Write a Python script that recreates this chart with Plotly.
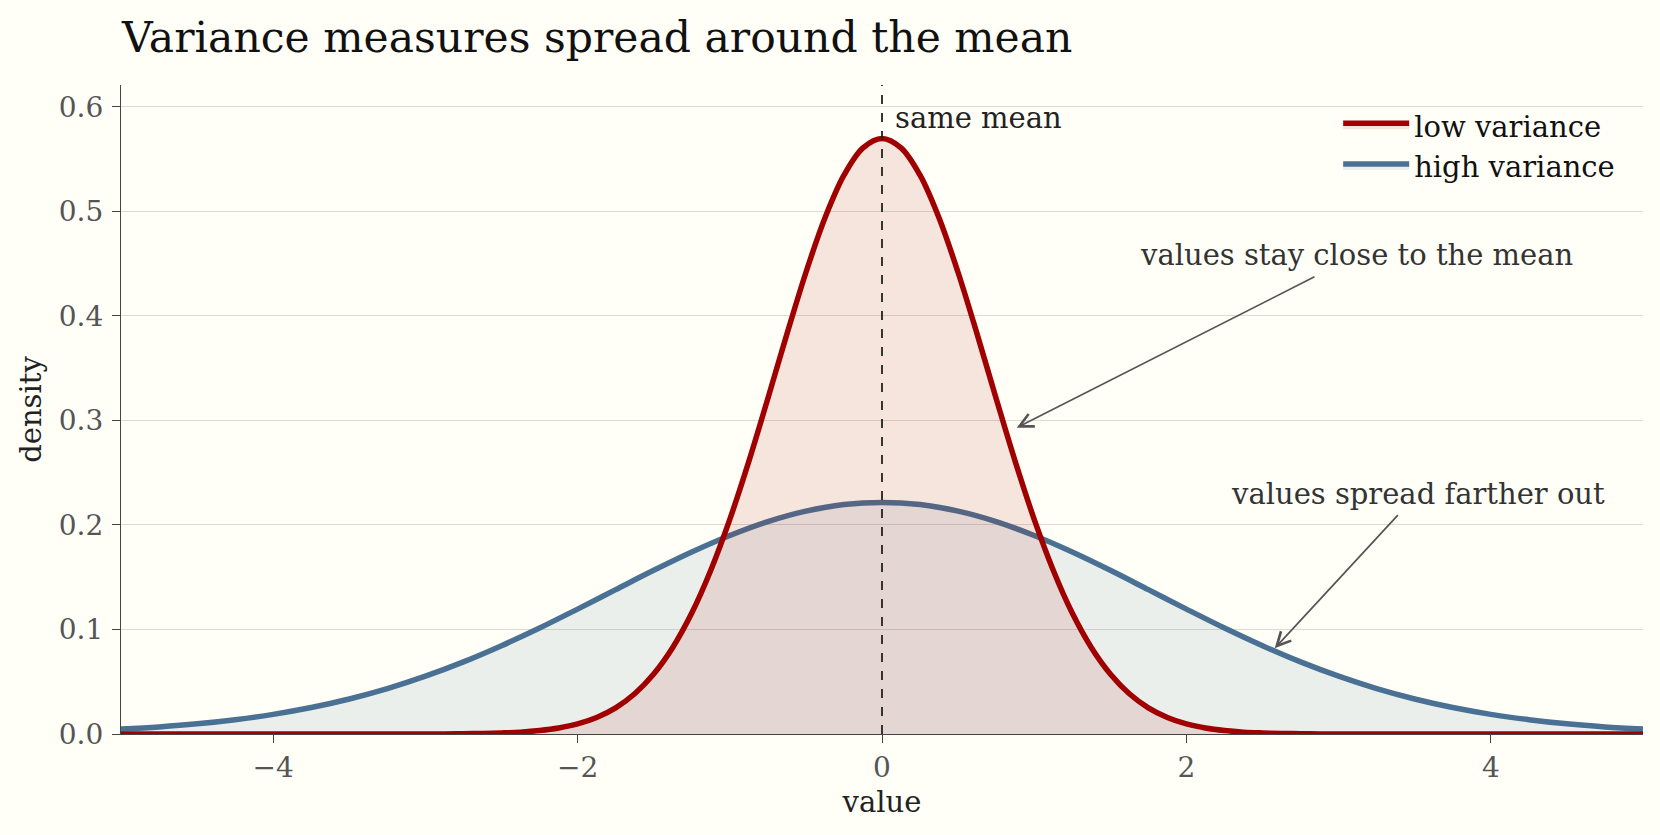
import plotly.graph_objects as go

# ---- data ----
low_x = [-5.0, -4.0, -3.5, -3.0, -2.875, -2.75, -2.625, -2.5, -2.375, -2.25, -2.125, -2.0,
         -1.875, -1.75, -1.625, -1.5, -1.375, -1.25, -1.125, -1.0, -0.875, -0.75, -0.625,
         -0.5, -0.375, -0.25, -0.125, 0.0, 0.125, 0.25, 0.375, 0.5, 0.625, 0.75, 0.875,
         1.0, 1.125, 1.25, 1.375, 1.5, 1.625, 1.75, 1.875, 2.0, 2.125, 2.25, 2.375, 2.5,
         2.625, 2.75, 2.875, 3.0, 3.5, 4.0, 5.0]
low_variance = [0.0, 0.0, 0.0, 0.0001, 0.0001, 0.0003, 0.0005, 0.0010, 0.0018, 0.0033, 0.0057,
                0.0096, 0.0158, 0.0250, 0.0385, 0.0574, 0.0828, 0.1157, 0.1567, 0.2054, 0.2609,
                0.3210, 0.3826, 0.4416, 0.4937, 0.5347, 0.5609, 0.5699, 0.5609, 0.5347, 0.4937,
                0.4416, 0.3826, 0.3210, 0.2609, 0.2054, 0.1567, 0.1157, 0.0828, 0.0574, 0.0385,
                0.0250, 0.0158, 0.0096, 0.0057, 0.0033, 0.0018, 0.0010, 0.0005, 0.0003, 0.0001,
                0.0001, 0.0, 0.0, 0.0]

high_x = [-5.0, -4.75, -4.5, -4.25, -4.0, -3.75, -3.5, -3.25, -3.0, -2.75, -2.5, -2.25,
          -2.0, -1.75, -1.5, -1.25, -1.0, -0.75, -0.5, -0.25, 0.0, 0.25, 0.5, 0.75,
          1.0, 1.25, 1.5, 1.75, 2.0, 2.25, 2.5, 2.75, 3.0, 3.25, 3.5, 3.75, 4.0,
          4.25, 4.5, 4.75, 5.0]
high_variance = [0.0047, 0.0068, 0.0097, 0.0137, 0.0188, 0.0253, 0.0335, 0.0434, 0.0553, 0.0690,
                 0.0845, 0.1014, 0.1195, 0.1381, 0.1566, 0.1741, 0.1899, 0.2032, 0.2132, 0.2195,
                 0.2216, 0.2195, 0.2132, 0.2032, 0.1899, 0.1741, 0.1566, 0.1381, 0.1195, 0.1014,
                 0.0845, 0.0690, 0.0553, 0.0434, 0.0335, 0.0253, 0.0188, 0.0137, 0.0097, 0.0068,
                 0.0047]

series_names = ["low variance", "high variance"]
y_ticks = [0.0, 0.1, 0.2, 0.3, 0.4, 0.5, 0.6]
y_tick_labels = ["0.0", "0.1", "0.2", "0.3", "0.4", "0.5", "0.6"]
x_ticks = [-4, -2, 0, 2, 4]
x_tick_labels = ["\u22124", "\u22122", "0", "2", "4"]

FONT = "DejaVu Serif"
BG = "#fffff8"
RED = "#a00000"
BLUE = "#4a7194"

fig = go.Figure()

fig.add_trace(go.Scatter(
    x=high_x, y=high_variance, mode="lines", line=dict(color=BLUE, width=5.5, shape="spline"),
    fill="tozeroy", fillcolor="rgba(74,113,148,0.11)", name=series_names[1], legendrank=2,
))
fig.add_trace(go.Scatter(
    x=low_x, y=low_variance, mode="lines", line=dict(color=RED, width=5.5, shape="spline"),
    fill="tozeroy", fillcolor="rgba(170,20,10,0.11)", name=series_names[0], legendrank=1,
))

# dashed "same mean" line
fig.add_shape(type="line", xref="x", yref="paper", x0=0, x1=0, y0=0, y1=1,
              line=dict(color="#222222", width=1.8, dash="dash"))

fig.add_annotation(x=0.07, y=0.589, xref="x", yref="y", text="same mean", showarrow=False,
                   xanchor="left", yanchor="middle", font=dict(family=FONT, size=29, color="#222222"))

fig.add_annotation(x=0.885, y=0.293, xref="x", yref="y", ax=3.12, ay=0.458, axref="x", ayref="y",
                   text="values stay close to the mean", showarrow=True, arrowhead=5, arrowsize=1.6,
                   arrowwidth=1.7, arrowcolor="#555555", borderpad=4,
                   font=dict(family=FONT, size=29, color="#333333"))

fig.add_annotation(x=2.58, y=0.082, xref="x", yref="y", ax=3.52, ay=0.23, axref="x", ayref="y",
                   text="values spread farther out", showarrow=True, arrowhead=5, arrowsize=1.6,
                   arrowwidth=1.7, arrowcolor="#555555", borderpad=4,
                   font=dict(family=FONT, size=29, color="#333333"))

fig.update_layout(
    width=1660, height=835,
    paper_bgcolor=BG, plot_bgcolor=BG,
    margin=dict(l=121, r=17, t=85, b=101),
    font=dict(family=FONT, size=28, color="#555555"),
    title=dict(text="Variance measures spread around the mean", x=122 / 1660, xanchor="left",
               y=1 - 37 / 835, yanchor="middle", font=dict(family=FONT, size=42.5, color="#111111")),
    showlegend=True,
    legend=dict(x=0.985, y=0.977, xanchor="right", yanchor="top", bgcolor="rgba(0,0,0,0)",
                font=dict(family=FONT, size=29, color="#111111"), itemwidth=66,
                traceorder="normal"),
    xaxis=dict(range=[-5, 5], tickvals=x_ticks, ticktext=x_tick_labels, showgrid=False,
               zeroline=False, showline=True, linecolor="#444444", linewidth=1.2,
               ticks="outside", ticklen=8, tickcolor="#444444", tickfont=dict(size=28),
               title=dict(text="value", font=dict(family=FONT, size=29, color="#222222"), standoff=8)),
    yaxis=dict(range=[0, 0.621], tickvals=y_ticks, ticktext=y_tick_labels, showgrid=True,
               gridcolor="#dedbcf", gridwidth=1.2, zeroline=False, showline=True,
               linecolor="#444444", linewidth=1.2, ticks="outside", ticklen=8, tickcolor="#444444",
               tickfont=dict(size=28), ticklabelstandoff=3,
               title=dict(text="density", font=dict(family=FONT, size=29, color="#222222"), standoff=8)),
)

fig.write_html("out.html")
